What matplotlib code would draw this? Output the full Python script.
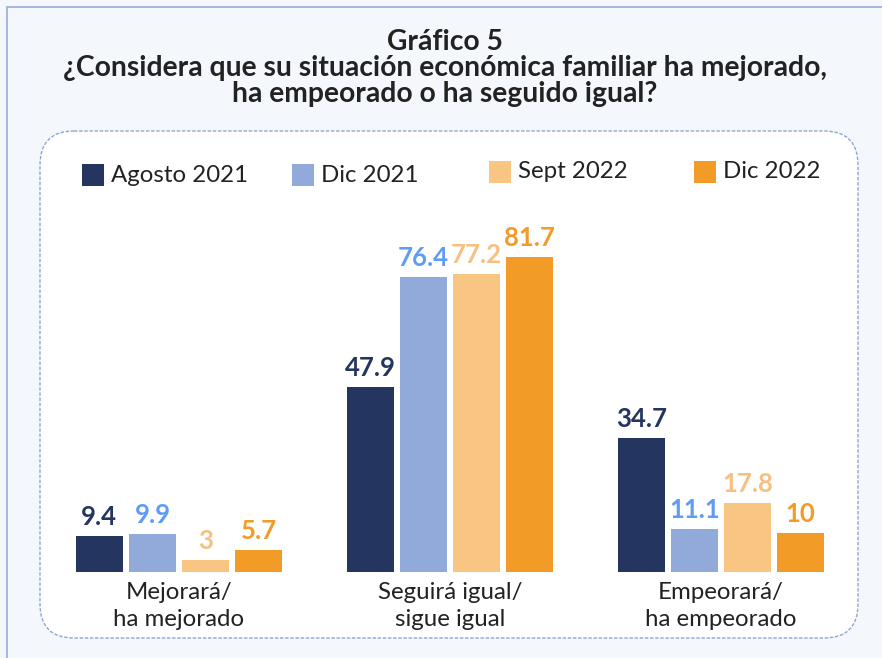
import matplotlib
matplotlib.use("Agg")
import matplotlib.pyplot as plt
from matplotlib.patches import FancyBboxPatch, Rectangle
import numpy as np

plt.rcParams['font.family'] = ['Lato', 'DejaVu Sans']

# ---- data ----
categories = ["Mejorará/\nha mejorado", "Seguirá igual/\nsigue igual", "Empeorará/\nha empeorado"]
series_names = ["Agosto 2021", "Dic 2021", "Sept 2022", "Dic 2022"]
agosto_2021 = [9.4, 47.9, 34.7]
dic_2021 = [9.9, 76.4, 11.1]
sept_2022 = [3, 77.2, 17.8]
dic_2022 = [5.7, 81.7, 10]
series_values = [agosto_2021, dic_2021, sept_2022, dic_2022]
value_labels = [["9.4", "47.9", "34.7"], ["9.9", "76.4", "11.1"],
                ["3", "77.2", "17.8"], ["5.7", "81.7", "10"]]
title_lines = "Gráfico 5\n¿Considera que su situación económica familiar ha mejorado,\nha empeorado o ha seguido igual?"

# ---- style ----
bar_colors = ["#243660", "#91aad9", "#f8c583", "#f29c27"]
label_colors = ["#243660", "#5e9cf5", "#f8c080", "#f29c27"]
W, H = 882, 658
fig = plt.figure(figsize=(W / 100, H / 100), dpi=100)
fig.patch.set_facecolor("#f4f7fc")

# background layer in pixel coordinates
bg = fig.add_axes([0, 0, 1, 1], zorder=0)
bg.set_xlim(0, W)
bg.set_ylim(H, 0)
bg.axis("off")
bg.add_patch(Rectangle((7, 7), W, H, facecolor="#f4f7fc", edgecolor="#9db3e0", lw=1.3))
bg.add_patch(FancyBboxPatch((40, 131), 818, 507,
                            boxstyle="round,pad=0,rounding_size=34",
                            facecolor="white", edgecolor="#8fa6d6",
                            lw=1.0, linestyle=(0, (2.5, 1.2))))

# title
bg.text(445, 68, title_lines, ha="center", va="center", fontsize=20.3,
        fontweight="bold", color="#222222", linespacing=1.0)

# legend (manual positions)
legend_x = [82, 292, 489, 694]
legend_y = [175, 175, 172, 172]
for name, c, lx, ly in zip(series_names, bar_colors, legend_x, legend_y):
    bg.add_patch(Rectangle((lx, ly - 11), 22, 22, facecolor=c, edgecolor="none"))
    bg.text(lx + 29, ly, name, ha="left", va="center", fontsize=17.3, color="#222222")

# ---- bars ----
ax = fig.add_axes([40 / W, 86 / H, 818 / W, 441 / H], zorder=1)
ax.patch.set_alpha(0)
x = np.arange(len(categories))
width = 0.173
pitch = 0.196
offsets = (np.arange(4) - 1.5) * pitch
for vals, labs, off, bc, lc in zip(series_values, value_labels, offsets, bar_colors, label_colors):
    bars = ax.bar(x + off, vals, width=width, color=bc)
    ax.bar_label(bars, labels=labs, padding=5, fontsize=18.5, fontweight="bold", color=lc)

ax.set_xlim(-0.513, 2.506)
ax.set_ylim(0, 114.3)
ax.set_xticks(x)
ax.set_xticklabels(categories, fontsize=17.3, color="#222222", linespacing=1.35)
ax.tick_params(axis="x", length=0, pad=7)
ax.set_yticks([])
for s in ax.spines.values():
    s.set_visible(False)

fig.savefig("out.png", dpi=100, facecolor=fig.get_facecolor())
